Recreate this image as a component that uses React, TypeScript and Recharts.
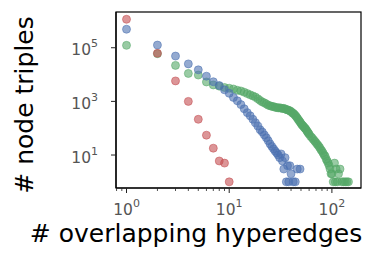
import React from 'react';
import {
  ScatterChart,
  Scatter,
  XAxis,
  YAxis,
  Label,
} from 'recharts';

const redX = [1, 2, 3, 4, 5, 6, 7, 8, 9, 10];
const redY = [1150000, 62000, 5800, 1000, 215, 55, 18, 6, 5, 1];

const blueX = [
  1, 2, 3, 4, 5, 6, 7, 8, 9, 10, 11, 12, 13, 14, 15, 16, 17, 18, 19, 20,
  21, 22, 23, 24, 25, 26, 27, 28, 29, 30, 31, 32, 33, 34, 35, 36, 37, 38, 39, 40,
  42, 44, 46, 49,
];
const blueY = [
  490000, 126000, 49000, 25000, 15000, 8700, 5400, 3900, 2700, 2000, 1400, 1050, 760, 530, 380, 290, 215, 160, 120, 88,
  72, 56, 44, 34, 26, 21, 17, 14, 12, 10, 8, 11, 6, 3, 8, 1, 4, 1, 4, 2,
  1, 1, 3, 3,
];

const greenX = [
  1, 2, 3, 4, 5, 6, 7, 8, 9, 10, 11, 12, 13, 14, 15, 16, 17, 18, 19, 20,
  21, 22, 23, 24, 25, 26, 27, 28, 29, 30, 31, 32, 33, 34, 35, 36, 37, 38, 39, 40,
  41, 42, 43, 44, 45, 46, 47, 48, 49, 50, 51, 52, 53, 54, 55, 56, 57, 58, 59, 60,
  62, 64, 66, 68, 70, 72, 74, 76, 78, 80, 82, 84, 86, 88, 90, 92, 94, 96, 98, 100,
  103, 106, 108, 110, 113, 116, 120, 125, 130, 135, 140, 145,
];
const greenY = [
  123000, 60000, 22000, 11000, 9600, 5300, 4100, 3700, 3300, 3100, 2900, 2600, 2450, 2200, 1950, 1750, 1600, 1450, 1250, 1080,
  950, 880, 800, 720, 690, 650, 640, 600, 590, 570, 580, 560, 540, 550, 520, 500, 480, 470, 440, 420,
  380, 360, 330, 300, 270, 240, 210, 190, 170, 150, 135, 125, 115, 105, 98, 90, 80, 72, 66, 60,
  50, 44, 38, 33, 29, 25, 22, 19, 16, 14, 12, 10, 9, 7, 6, 5, 4, 3, 2, 2,
  1, 5, 1, 3, 1, 2, 3, 1, 1, 1, 1, 1,
];

const xTicks = [0.8, 0.9, 1, 2, 3, 4, 5, 6, 7, 8, 9, 10, 20, 30, 40, 50, 60, 70, 80, 90, 100];
const yTicks = [10, 1000, 100000];

const pts = (xs: number[], ys: number[]) => xs.map((x, i) => ({ x, y: ys[i] }));

const FONT = 'DejaVu Sans';

const dot = (color: string) => (props: any) => (
  <circle
    cx={props.cx}
    cy={props.cy}
    r={4}
    fill={color}
    fillOpacity={0.6}
    stroke={color}
    strokeOpacity={0.6}
    strokeWidth={0.9}
  />
);

const isMajor = (v: number) => Math.abs(Math.log10(v) - Math.round(Math.log10(v))) < 1e-6;

const XTick = (props: any) => {
  const { x, y, payload } = props;
  const v = payload.value;
  const major = isMajor(v);
  return (
    <g>
      <line x1={x} x2={x} y1={y} y2={y + (major ? 5 : 3)} stroke="#222" strokeWidth={major ? 1 : 0.8} />
      {major && (
        <text x={x} y={y + 27} textAnchor="middle" fill="#555" fontSize={15.5} fontFamily={FONT}>
          <tspan>10</tspan>
          <tspan dy={-8} fontSize={11}>{Math.round(Math.log10(v))}</tspan>
        </text>
      )}
    </g>
  );
};

const YTick = (props: any) => {
  const { x, y, payload } = props;
  const v = payload.value;
  return (
    <g>
      <line x1={x} x2={x - 5} y1={y} y2={y} stroke="#222" strokeWidth={1} />
      <text x={x - 18} y={y + 7.5} textAnchor="end" fill="#555" fontSize={15.5} fontFamily={FONT}>
        <tspan>10</tspan>
        <tspan dy={-8} fontSize={11}>{Math.round(Math.log10(v))}</tspan>
      </text>
    </g>
  );
};

export default function App() {
  return (
    <div style={{ position: 'absolute', left: 0, top: 0, background: '#fff' }}>
      <ScatterChart width={375} height={260} margin={{ top: 12, right: 14, bottom: 0, left: 0 }}>
        <XAxis
          dataKey="x"
          type="number"
          scale="log"
          domain={[0.79, 192]}
          allowDataOverflow
          ticks={xTicks}
          interval={0}
          height={72}
          tickSize={0}
          tickMargin={0}
          tickLine={false}
          tick={<XTick />}
          axisLine={{ stroke: '#000', strokeWidth: 1.2 }}
        >
          <Label
            content={() => (
              <g>
                <rect x={116} y={12} width={245} height={176} fill="none" stroke="#000" strokeWidth={1.2} />
                <text x={196} y={242} textAnchor="middle" fontSize={25} fontFamily={FONT} fill="#000">
                  # overlapping hyperedges
                </text>
              </g>
            )}
          />
        </XAxis>
        <YAxis
          dataKey="y"
          type="number"
          scale="log"
          domain={[0.59, 2150000]}
          allowDataOverflow
          ticks={yTicks}
          interval={0}
          width={116}
          tickSize={0}
          tickMargin={0}
          tickLine={false}
          tick={<YTick />}
          axisLine={{ stroke: '#000', strokeWidth: 1.2 }}
        >
          <Label
            content={() => (
              <text
                x={33}
                y={105}
                transform="rotate(-90 33 105)"
                textAnchor="middle"
                fontSize={25}
                fontFamily={FONT}
                fill="#000"
              >
                # node triples
              </text>
            )}
          />
        </YAxis>
        <Scatter data={pts(greenX, greenY)} shape={dot('#55A868')} isAnimationActive={false} />
        <Scatter data={pts(blueX, blueY)} shape={dot('#4C72B0')} isAnimationActive={false} />
        <Scatter data={pts(redX, redY)} shape={dot('#C44E52')} isAnimationActive={false} />
      </ScatterChart>
    </div>
  );
}
